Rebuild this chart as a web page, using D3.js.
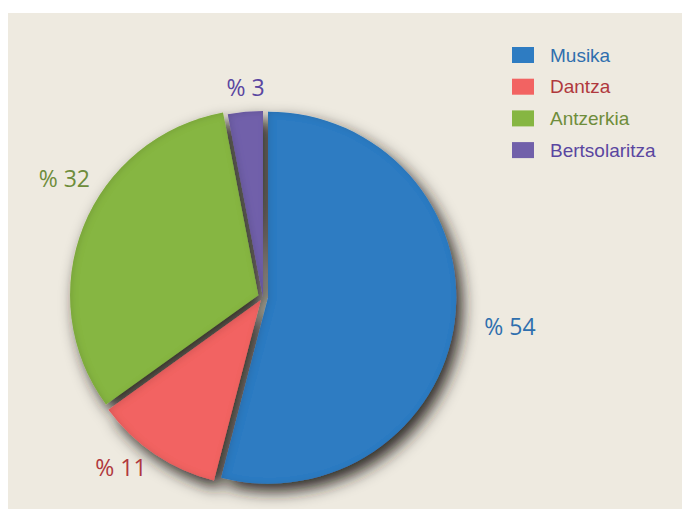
<!DOCTYPE html>
<html>
<head>
<meta charset="utf-8">
<script src="https://cdn.jsdelivr.net/npm/d3@7/dist/d3.min.js"></script>
<style>
  html, body { margin: 0; padding: 0; background: #ffffff; }
  svg { display: block; }
</style>
</head>
<body>
<svg id="chart" width="682" height="509"></svg>
<script>
// ---- data ----
const categories = ["Musika", "Dantza", "Antzerkia", "Bertsolaritza"];
const values = [54, 11, 32, 3];
const labels = ["% 54", "% 11", "% 32", "% 3"];
const sliceColors = ["#2e7cc2", "#f26362", "#86b642", "#7160aa"];
const textColors = ["#2f6fae", "#b0383d", "#6e8d3b", "#5a46a0"];

// ---- layout / style ----
const W = 682, H = 509;
const cx = 263, cy = 297, R = 186, sx = 1.012;
const explode = [5, 4, 5, 0];
const labelR = 225;
const labelNudge = [[21, 2], [-14, -15], [13, -35], [4, 15]];

const svg = d3.select("#chart");
const defs = svg.append("defs");

// drop shadow
const ds = defs.append("filter").attr("id", "shadow")
  .attr("x", "-20%").attr("y", "-20%").attr("width", "140%").attr("height", "140%");
ds.append("feGaussianBlur").attr("in", "SourceAlpha").attr("stdDeviation", 8).attr("result", "blur");
ds.append("feOffset").attr("in", "blur").attr("dx", 6).attr("dy", 8).attr("result", "off");
ds.append("feFlood").attr("flood-color", "#231e1a").attr("flood-opacity", 0.95).attr("result", "fl");
ds.append("feComposite").attr("in", "fl").attr("in2", "off").attr("operator", "in").attr("result", "sh");
const m = ds.append("feMerge");
m.append("feMergeNode").attr("in", "sh");
m.append("feMergeNode").attr("in", "SourceGraphic");

// inner bevel
const inn = defs.append("filter").attr("id", "inner")
  .attr("x", "-10%").attr("y", "-10%").attr("width", "120%").attr("height", "120%");
inn.append("feGaussianBlur").attr("in", "SourceAlpha").attr("stdDeviation", 3).attr("result", "b");
inn.append("feOffset").attr("in", "b").attr("dx", 2).attr("dy", 1).attr("result", "bo");
inn.append("feComposite").attr("in", "SourceAlpha").attr("in2", "bo").attr("operator", "arithmetic")
  .attr("k1", 0).attr("k2", 1).attr("k3", -1).attr("k4", 0).attr("result", "edge");
inn.append("feFlood").attr("flood-color", "#000").attr("flood-opacity", 0.22).attr("result", "c");
inn.append("feComposite").attr("in", "c").attr("in2", "edge").attr("operator", "in").attr("result", "ish");
const m2 = inn.append("feMerge");
m2.append("feMergeNode").attr("in", "SourceGraphic");
m2.append("feMergeNode").attr("in", "ish");

// background panel
svg.append("rect").attr("x", 8).attr("y", 13).attr("width", W - 8).attr("height", H - 13)
  .attr("fill", "#eeeae0");

const pie = d3.pie().sort(null).value(d => d).startAngle(0).endAngle(2 * Math.PI);
const arcs = pie(values);
const arc = d3.arc().innerRadius(0).outerRadius(R);

const g = svg.append("g")
  .attr("transform", `translate(${cx},${cy}) scale(${sx},1)`)
  .attr("filter", "url(#shadow)");

g.selectAll("path.slice").data(arcs).join("path")
  .attr("class", "slice")
  .attr("transform", (d, i) => {
    const a = (d.startAngle + d.endAngle) / 2;
    return `translate(${Math.sin(a) * explode[i]},${-Math.cos(a) * explode[i]})`;
  })
  .attr("d", arc)
  .attr("fill", (d, i) => sliceColors[i])
  .attr("filter", "url(#inner)");

// labels
const labelArc = d3.arc().innerRadius(labelR).outerRadius(labelR);
svg.append("g").selectAll("text").data(arcs).join("text")
  .attr("x", (d, i) => cx + labelArc.centroid(d)[0] * sx + labelNudge[i][0])
  .attr("y", (d, i) => cy + labelArc.centroid(d)[1] + labelNudge[i][1])
  .attr("dy", "0.36em")
  .attr("text-anchor", "middle")
  .attr("font-family", "'Open Sans', sans-serif")
  .attr("font-size", 23)
  .attr("fill", (d, i) => textColors[i])
  .text((d, i) => labels[i]);

// legend
const leg = svg.append("g").attr("transform", "translate(512,47)");
const item = leg.selectAll("g").data(categories).join("g")
  .attr("transform", (d, i) => `translate(0,${i * 31.7})`);
item.append("rect").attr("width", 22).attr("height", 16)
  .attr("fill", (d, i) => sliceColors[i]);
item.append("text").attr("x", 38).attr("y", 14.5)
  .attr("font-family", "'Liberation Sans', Arial, sans-serif")
  .attr("font-size", 19)
  .attr("fill", (d, i) => textColors[i])
  .text(d => d);
</script>
</body>
</html>
